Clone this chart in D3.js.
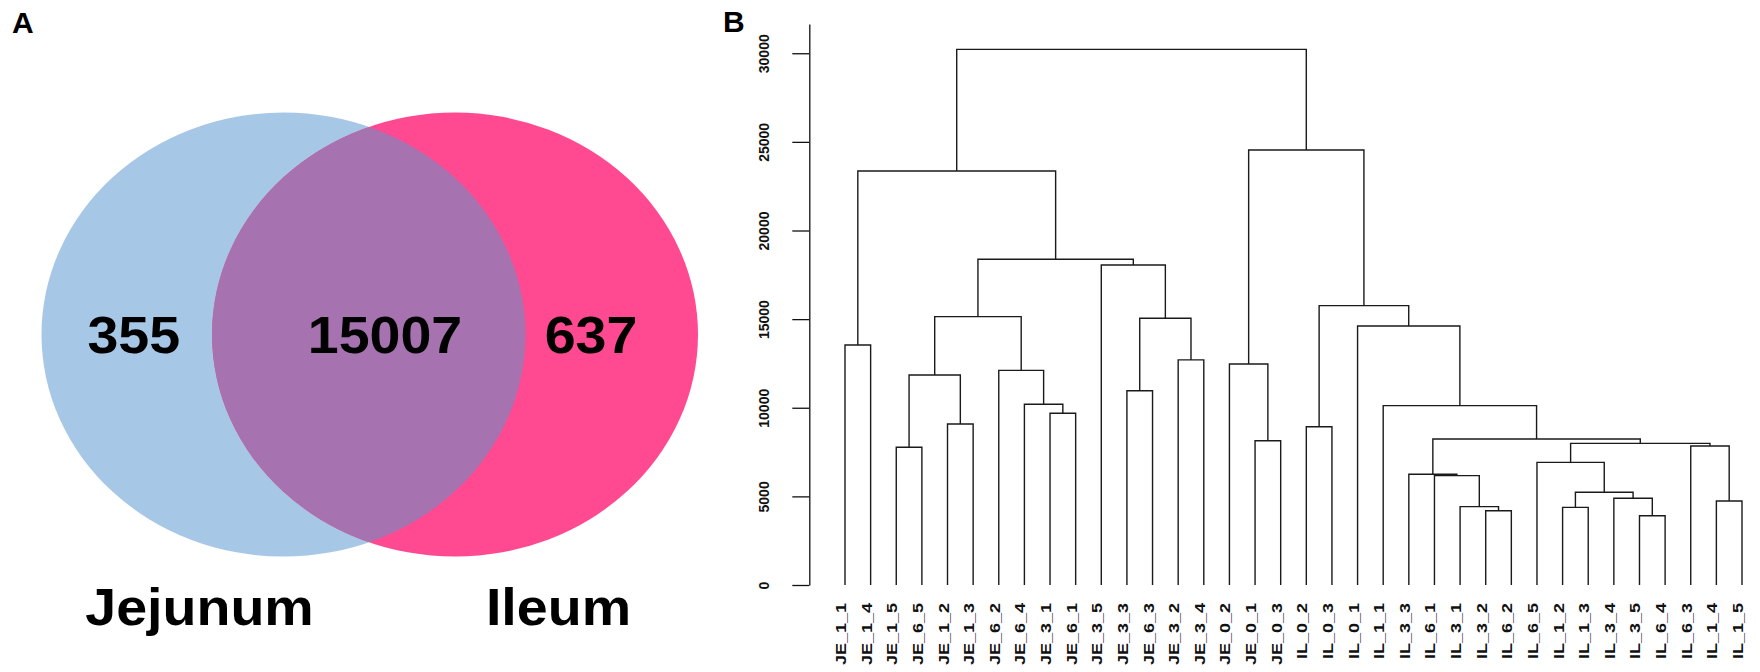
<!DOCTYPE html>
<html>
<head>
<meta charset="utf-8">
<script src="https://cdn.jsdelivr.net/npm/d3@7"></script>
<style>
  html, body { margin: 0; padding: 0; background: #fff; }
  svg { display: block; }
  text { font-family: "Liberation Sans", Arial, Helvetica, sans-serif; }
</style>
</head>
<body>
<svg id="fig" width="1760" height="672"></svg>
<script>
// ---- Panel A: Venn diagram of expressed genes ----
const vennSets = ["Jejunum", "Ileum"];
const vennCounts = [355, 15007, 637];   // Jejunum only, shared, Ileum only
const vennColors = ["#a7c7e7", "#ff4990", "#a772b0"];

// ---- Panel B: hierarchical clustering of samples ----
const leafLabels = [
  "JE_1_1", "JE_1_4", "JE_1_5", "JE_6_5", "JE_1_2", "JE_1_3", "JE_6_2", "JE_6_4",
  "JE_3_1", "JE_6_1", "JE_3_5", "JE_3_3", "JE_6_3", "JE_3_2", "JE_3_4", "JE_0_2",
  "JE_0_1", "JE_0_3", "IL_0_2", "IL_0_3", "IL_0_1", "IL_1_1", "IL_3_3", "IL_6_1",
  "IL_3_1", "IL_3_2", "IL_6_2", "IL_6_5", "IL_1_2", "IL_1_3", "IL_3_4", "IL_3_5",
  "IL_6_4", "IL_6_3", "IL_1_4", "IL_1_5"
];
// hclust-style merge table: negative = leaf (1-based), positive = earlier merge (1-based)
const mergeLeft  = [-1, -3, -5, 2, -9, -8, -7, 4, -12, -14, 9, -11, 8, 1, -17, -16, -19,
                    -26, -25, -24, -23, -29, -32, -31, 22, -28, -35, -34, 26, 21, -22, -21, 17, 16, 14];
const mergeRight = [-2, -4, -6, 3, -10, 5, 6, 7, -13, -15, 10, 11, 12, 13, -18, 15, -20,
                    -27, 18, 19, 20, -30, -33, 23, 24, 25, -36, 27, 28, 29, 30, 31, 32, 33, 34];
const mergeHeight = [13540, 7770, 9080, 11850, 9690, 10200, 12110, 15140, 10960, 12700, 15050,
                     18050, 18380, 23360, 8140, 12470, 8930, 4190, 4420, 6170, 6250, 4380, 3910,
                     4890, 5230, 6920, 4740, 7840, 7990, 8240, 10120, 14610, 15760, 24540, 30220];
const heightTicks = [0, 5000, 10000, 15000, 20000, 25000, 30000];

const svg = d3.select("#fig");

// panel letters
svg.append("text").attr("x", 12).attr("y", 33).attr("font-size", 30).attr("font-weight", "bold")
  .text("A");
svg.append("text").attr("x", 723).attr("y", 32).attr("font-size", 30).attr("font-weight", "bold")
  .text("B");

// ---------- Venn ----------
const venn = svg.append("g");
const ell = [
  { cx: 283.5, cy: 334.6, rx: 242, ry: 222 },
  { cx: 455,   cy: 334.6, rx: 243, ry: 222 }
];
venn.append("clipPath").attr("id", "clipRight")
  .append("ellipse").attr("cx", ell[1].cx).attr("cy", ell[1].cy).attr("rx", ell[1].rx).attr("ry", ell[1].ry);

venn.selectAll("ellipse.set").data(ell).join("ellipse")
  .attr("class", "set")
  .attr("cx", d => d.cx).attr("cy", d => d.cy).attr("rx", d => d.rx).attr("ry", d => d.ry)
  .attr("fill", (d, i) => vennColors[i]);

venn.append("ellipse")
  .attr("cx", ell[0].cx).attr("cy", ell[0].cy).attr("rx", ell[0].rx).attr("ry", ell[0].ry)
  .attr("fill", vennColors[2]).attr("clip-path", "url(#clipRight)");

const countX = [133.8, 385, 591];
venn.selectAll("text.count").data(vennCounts).join("text")
  .attr("class", "count")
  .attr("transform", (d, i) => `translate(${countX[i]},353) scale(1.09,1)`)
  .attr("text-anchor", "middle").attr("font-size", 51).attr("font-weight", "bold")
  .attr("fill", "#000").text(d => d);

const setLabelX = [199.5, 558.5];
venn.selectAll("text.setname").data(vennSets).join("text")
  .attr("class", "setname")
  .attr("transform", (d, i) => `translate(${setLabelX[i]},625) scale(1.09,1)`)
  .attr("text-anchor", "middle").attr("font-size", 51).attr("font-weight", "bold")
  .attr("fill", "#000").text(d => d);

// ---------- Dendrogram ----------
const x = d3.scalePoint().domain(leafLabels).range([845, 1742]);
const y = d3.scaleLinear().domain([0, 31650]).range([585, 24]);

const axisG = svg.append("g").attr("transform", "translate(809.3,0)")
  .call(d3.axisLeft(y).tickValues(heightTicks).tickSizeInner(17).tickSizeOuter(0).tickFormat(d3.format("d")));
axisG.select(".domain").attr("stroke", "#111").attr("stroke-width", 1.3);
axisG.selectAll(".tick line").attr("stroke", "#111").attr("stroke-width", 1.3);
axisG.selectAll(".tick text")
  .attr("transform", "rotate(-90)")
  .attr("x", 0).attr("y", -40).attr("dy", 0)
  .attr("text-anchor", "middle")
  .attr("font-size", 14).attr("font-weight", "bold").attr("fill", "#111")
  .attr("font-family", "'Liberation Sans', Arial, sans-serif");

// node positions
const nodeX = [], nodeY = [];
function childPos(idx) {
  if (idx < 0) return [x(leafLabels[-idx - 1]), y(0)];
  return [nodeX[idx - 1], nodeY[idx - 1]];
}
const segs = [];
mergeHeight.forEach((h, i) => {
  const [xl, yl] = childPos(mergeLeft[i]);
  const [xr, yr] = childPos(mergeRight[i]);
  const ym = y(h);
  nodeX[i] = (xl + xr) / 2;
  nodeY[i] = ym;
  segs.push(`M${xl},${yl}V${ym}H${xr}V${yr}`);
});

svg.append("g").selectAll("path").data(segs).join("path")
  .attr("d", d => d)
  .attr("fill", "none").attr("stroke", "#1a1a1a").attr("stroke-width", 1.4);

svg.append("g").selectAll("text").data(leafLabels).join("text")
  .attr("transform", d => `translate(${x(d) + 1},603) rotate(-90) scale(1.2,1)`)
  .attr("text-anchor", "end")
  .attr("font-size", 15).attr("font-weight", "bold").attr("fill", "#111")
  .text(d => d);
</script>
</body>
</html>
